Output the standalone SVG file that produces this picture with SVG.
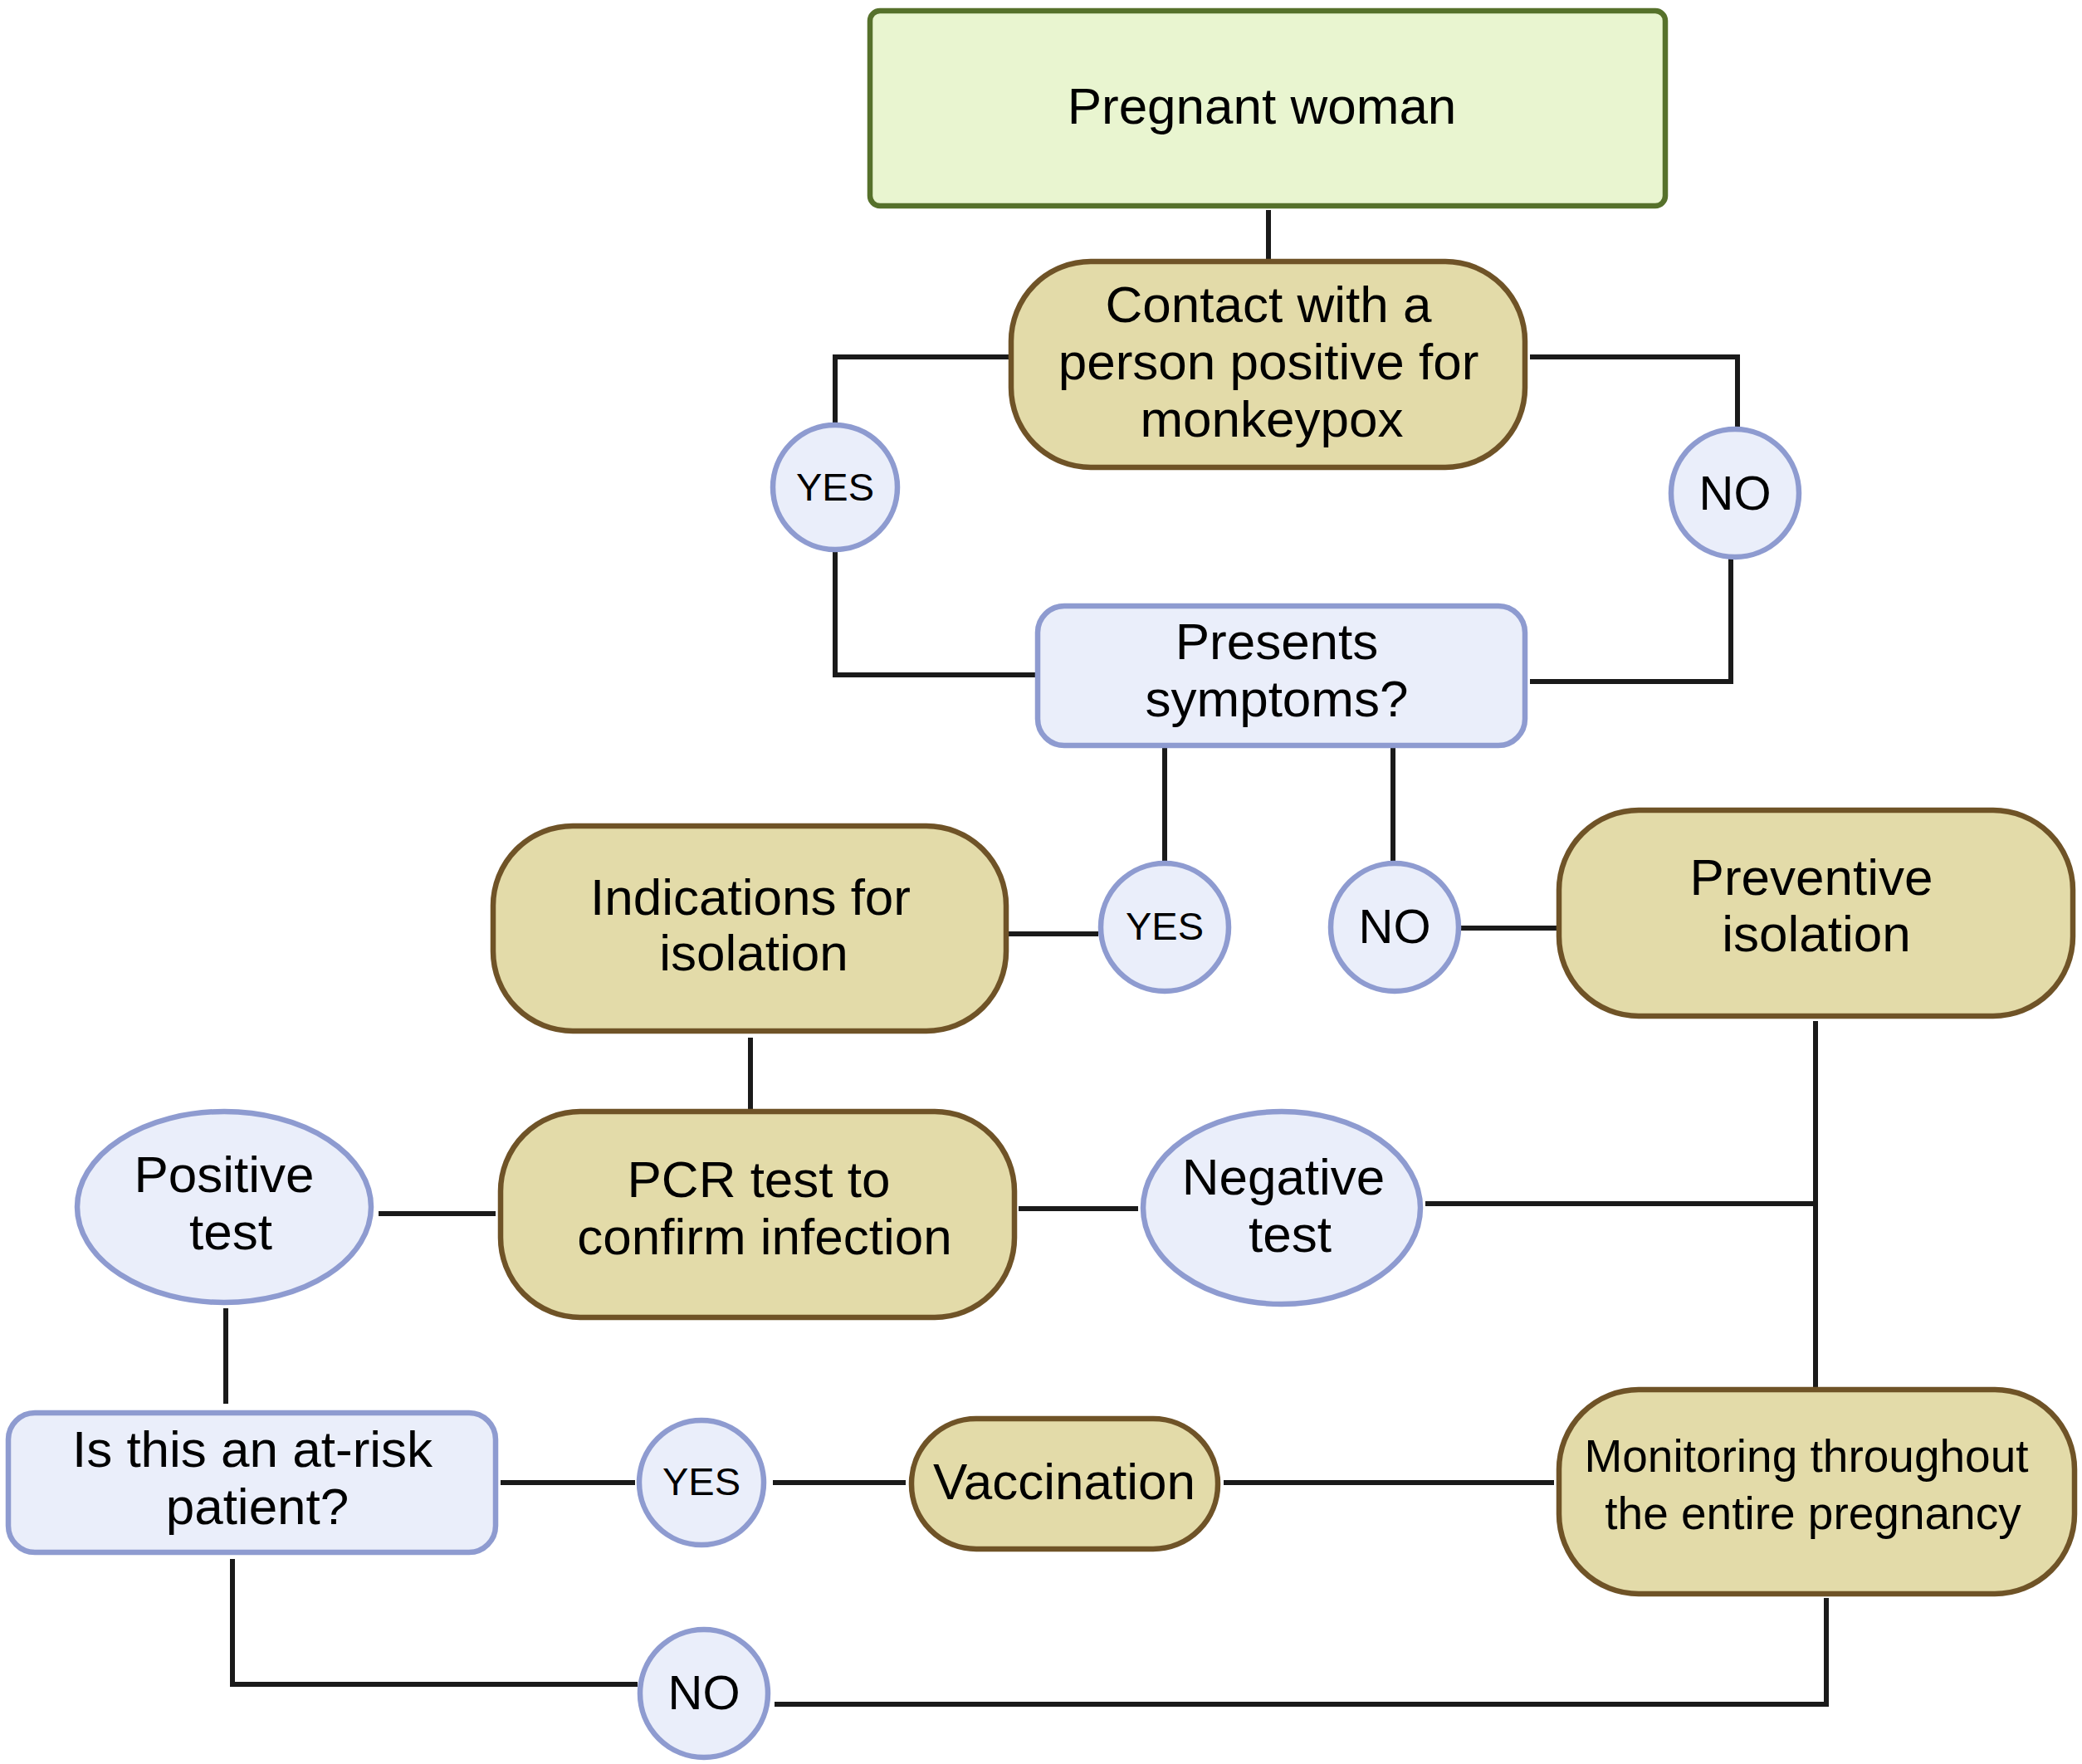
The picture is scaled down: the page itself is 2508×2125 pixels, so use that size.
<svg xmlns="http://www.w3.org/2000/svg" width="2508" height="2125" viewBox="0 0 2508 2125">
<style>
.green{fill:#e9f5d0;stroke:#56712b;stroke-width:6.5}
.tan{fill:#e3dba9;stroke:#6f5327;stroke-width:6.5}
.lav{fill:#eaeefa;stroke:#8e9bd0;stroke-width:6.5}
.t{font-family:"Liberation Sans",Arial,sans-serif;font-size:62px;fill:#000;text-anchor:middle}
.s{font-size:47px}
.n{font-size:58px}
.m{font-size:55px}
.c line,.c polyline{stroke:#1a1a1a;stroke-width:6;fill:none}
</style>
<rect width="2508" height="2125" fill="#fff"/>
<g class="c" id="connectors">
<line x1="1528" y1="253" x2="1528" y2="315"/>
<polyline points="1221,430 1006,430 1006,512"/>
<polyline points="1006,662 1006,813 1250,813"/>
<polyline points="1843,430 2093,430 2093,517"/>
<polyline points="2085,669 2085,821 1843,821"/>
<line x1="1403" y1="898" x2="1403" y2="1040"/>
<line x1="1678" y1="898" x2="1678" y2="1040"/>
<line x1="1214" y1="1125" x2="1323" y2="1125"/>
<line x1="1760" y1="1118" x2="1881" y2="1118"/>
<line x1="904" y1="1250" x2="904" y2="1339"/>
<line x1="456" y1="1462" x2="597" y2="1462"/>
<line x1="1227" y1="1456" x2="1371" y2="1456"/>
<line x1="1717" y1="1450" x2="2187" y2="1450"/>
<line x1="2187" y1="1230" x2="2187" y2="1674"/>
<line x1="272" y1="1576" x2="272" y2="1691"/>
<line x1="603" y1="1786" x2="765" y2="1786"/>
<line x1="931" y1="1786" x2="1091" y2="1786"/>
<line x1="1474" y1="1786" x2="1872" y2="1786"/>
<polyline points="280,1878 280,2029 768,2029"/>
<polyline points="933,2053 2200,2053 2200,1925"/>
</g>
<g id="pregnant"><rect class="green" x="1048" y="13" width="958" height="235" rx="12"/><text class="t" x="1520" y="149">Pregnant woman</text></g>
<g id="contact"><rect class="tan" x="1218" y="315" width="619" height="248" rx="96"/><text class="t" x="1528" y="388">Contact with a</text><text class="t" x="1528" y="457">person positive for</text><text class="t" x="1532" y="526">monkeypox</text></g>
<g id="yes1"><circle class="lav" cx="1006" cy="587" r="75"/><text class="t s" x="1006" y="603">YES</text></g>
<g id="no1"><circle class="lav" cx="2090" cy="594" r="77"/><text class="t n" x="2090" y="614">NO</text></g>
<g id="presents"><rect class="lav" x="1250" y="730" width="587" height="168" rx="32"/><text class="t" x="1538" y="794">Presents</text><text class="t" x="1538" y="863">symptoms?</text></g>
<g id="yes2"><circle class="lav" cx="1403" cy="1117" r="77"/><text class="t s" x="1403" y="1132">YES</text></g>
<g id="no2"><circle class="lav" cx="1680" cy="1117" r="77"/><text class="t n" x="1680" y="1136">NO</text></g>
<g id="indications"><rect class="tan" x="594" y="995" width="618" height="247" rx="96"/><text class="t" x="904" y="1102">Indications for</text><text class="t" x="908" y="1169">isolation</text></g>
<g id="preventive"><rect class="tan" x="1878" y="976" width="619" height="248" rx="96"/><text class="t" x="2182" y="1078">Preventive</text><text class="t" x="2188" y="1146">isolation</text></g>
<g id="pcr"><rect class="tan" x="603" y="1339" width="619" height="248" rx="96"/><text class="t" x="914" y="1442">PCR test to</text><text class="t" x="921" y="1511">confirm infection</text></g>
<g id="positive"><ellipse class="lav" cx="270" cy="1454" rx="177" ry="115"/><text class="t" x="270" y="1436">Positive</text><text class="t" x="278" y="1505">test</text></g>
<g id="negative"><ellipse class="lav" cx="1544" cy="1455" rx="167" ry="116"/><text class="t" x="1546" y="1439">Negative</text><text class="t" x="1554" y="1508">test</text></g>
<g id="atrisk"><rect class="lav" x="10" y="1702" width="587" height="168" rx="32"/><text class="t" x="304" y="1767">Is this an at-risk</text><text class="t" x="310" y="1836">patient?</text></g>
<g id="yes3"><circle class="lav" cx="845" cy="1786" r="75"/><text class="t s" x="845" y="1801">YES</text></g>
<g id="vaccination"><rect class="tan" x="1098" y="1709" width="369" height="157" rx="78"/><text class="t" x="1282" y="1806">Vaccination</text></g>
<g id="monitoring"><rect class="tan" x="1878" y="1674" width="621" height="246" rx="96"/><text class="t m" x="2176" y="1773">Monitoring throughout</text><text class="t m" x="2184" y="1842">the entire pregnancy</text></g>
<g id="no3"><circle class="lav" cx="848" cy="2040" r="77"/><text class="t n" x="848" y="2059">NO</text></g>
</svg>
